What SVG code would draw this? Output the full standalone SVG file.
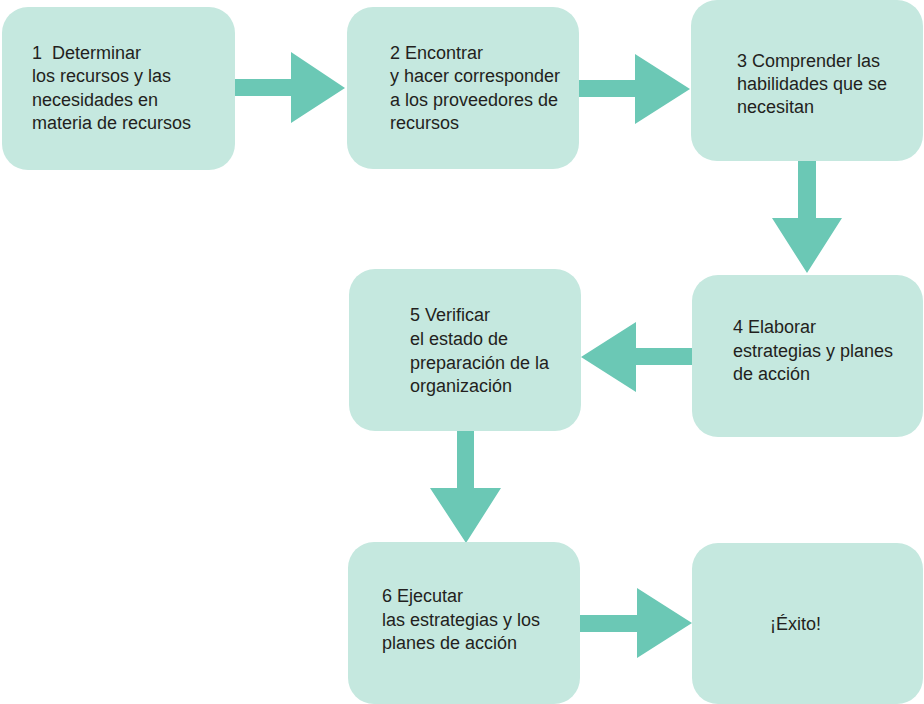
<svg xmlns="http://www.w3.org/2000/svg" width="924" height="704" viewBox="0 0 924 704">
<style>
.box{fill:#c5e8df}
.arr{fill:#6bc8b5}
text{font-family:"Liberation Sans",Arial,sans-serif;font-size:18px;fill:#231f20}
</style>
<rect width="924" height="704" fill="#ffffff"/>
<g id="connectors">
<polygon class="arr" points="235,79 291,79 291,52 345,88 291,123 291,96 235,96"/>
<polygon class="arr" points="579,80 635,80 635,54 690,89 635,124 635,97 579,97"/>
<polygon class="arr" points="798,161 816,161 816,218 842,218 807,273 772,218 798,218"/>
<polygon class="arr" points="692,348 636,348 636,322 581,357 636,392 636,365 692,365"/>
<polygon class="arr" points="457,431 474,431 474,488 501,488 466,543 430,488 457,488"/>
<polygon class="arr" points="580,615 637,615 637,588 692,623 637,658 637,632 580,632"/>
</g>
<g id="node1">
<rect class="box" x="2" y="7" width="233" height="163" rx="26"/>
<text x="32" y="59">1&#160; Determinar</text>
<text x="32" y="82">los recursos y las</text>
<text x="32" y="106">necesidades en</text>
<text x="32" y="129">materia de recursos</text>
</g>
<g id="node2">
<rect class="box" x="347" y="7" width="232" height="162" rx="26"/>
<text x="390" y="59">2 Encontrar</text>
<text x="390" y="82">y hacer corresponder</text>
<text x="390" y="106">a los proveedores de</text>
<text x="390" y="129">recursos</text>
</g>
<g id="node3">
<rect class="box" x="691" y="0" width="232" height="161" rx="26"/>
<text x="737" y="67">3 Comprender las</text>
<text x="737" y="90">habilidades que se</text>
<text x="737" y="113">necesitan</text>
</g>
<g id="node4">
<rect class="box" x="692" y="275" width="231" height="162" rx="26"/>
<text x="733" y="333">4 Elaborar</text>
<text x="733" y="357">estrategias y planes</text>
<text x="733" y="380">de acción</text>
</g>
<g id="node5">
<rect class="box" x="349" y="269" width="232" height="162" rx="26"/>
<text x="410" y="321">5 Verificar</text>
<text x="410" y="345">el estado de</text>
<text x="410" y="369">preparación de la</text>
<text x="410" y="392">organización</text>
</g>
<g id="node6">
<rect class="box" x="348" y="542" width="232" height="162" rx="26"/>
<text x="382" y="602">6 Ejecutar</text>
<text x="382" y="626">las estrategias y los</text>
<text x="382" y="649">planes de acción</text>
</g>
<g id="node7">
<rect class="box" x="692" y="543" width="231" height="161" rx="26"/>
<text x="770" y="630">¡Éxito!</text>
</g>
</svg>
